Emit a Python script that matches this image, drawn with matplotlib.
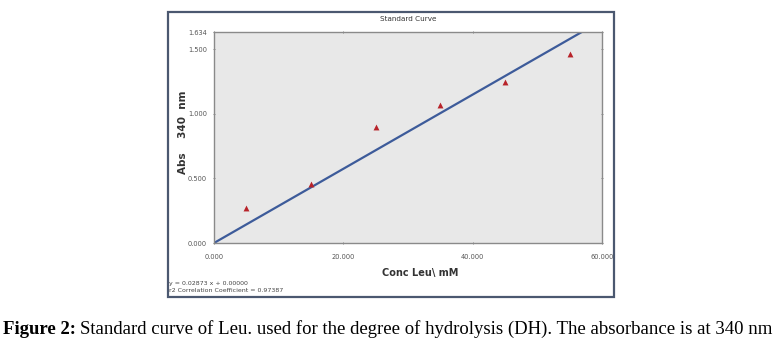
import matplotlib
matplotlib.use("Agg")
import matplotlib.pyplot as plt
from matplotlib.patches import Rectangle
import numpy as np

# Leucine standards (mM) and measured absorbance at 340 nm
conc = [5, 15, 25, 35, 45, 55]
absorbance = [0.273, 0.455, 0.900, 1.069, 1.249, 1.462]

# Linear fit through the origin
slope = 0.02873
intercept = 0.00000
r2 = 0.97387

x_ticks = [0, 20, 40, 60]
x_tick_labels = ["0.000", "20.000", "40.000", "60.000"]
y_ticks = [0.0, 0.5, 1.0, 1.5, 1.634]
y_tick_labels = ["0.000", "0.500", "1.000", "1.500", "1.634"]

fig = plt.figure(figsize=(7.76, 3.43), dpi=100)
fig.patch.set_facecolor("white")

# Outer window frame around the plot
frame = Rectangle((168 / 776, 1 - 297 / 343), (614 - 168) / 776, (297 - 12) / 343,
                  transform=fig.transFigure, fill=False, edgecolor="#4b5870",
                  linewidth=1.6, zorder=0)
fig.patches.append(frame)

ax = fig.add_axes([214 / 776, 1 - 243 / 343, (602 - 214) / 776, (243 - 32) / 343])
ax.set_facecolor("#e8e8e8")
for s in ax.spines.values():
    s.set_color("#8a8a8a")
    s.set_linewidth(1.0)

xs = np.array([0, 60])
ax.plot(xs, slope * xs + intercept, color="#3d5b9a", linewidth=1.6, zorder=2)
ax.scatter(conc, absorbance, marker="^", s=18, color="#b8232a", zorder=3, linewidths=0)

ax.set_xlim(0, 60)
ax.set_ylim(0, 1.634)
ax.set_xticks(x_ticks)
ax.set_xticklabels(x_tick_labels)
ax.set_yticks(y_ticks)
ax.set_yticklabels(y_tick_labels)
ax.tick_params(axis="both", labelsize=4.8, labelcolor="#555555", color="#777777",
               length=2, width=0.6, direction="inout")
ax.tick_params(axis="x", pad=7)
ax.tick_params(axis="y", pad=4)
ax.tick_params(top=True, right=True)

ax.set_title("Standard Curve", fontsize=5.2, color="#333333", pad=8)
ax.set_xlabel("Conc Leu\\ mM", fontsize=7, fontweight="bold", color="#333333")
ax.set_ylabel("Abs    340  nm", fontsize=7.5, fontweight="bold", color="#333333")
ax.xaxis.set_label_coords((420 - 214) / 388, -(273 - 243) / 211)
ax.yaxis.set_label_coords(-(214 - 183) / 388, (243 - 132) / 211)
ax.xaxis.label.set_va("center")
ax.yaxis.label.set_va("center")

fig.text(169 / 776, 1 - 283 / 343, f"y = {slope:.5f} x + {intercept:.5f}",
         fontsize=4.5, color="#444444", va="center", ha="left")
fig.text(169 / 776, 1 - 291 / 343, f"r2 Correlation Coefficient = {r2:.5f}",
         fontsize=4.5, color="#444444", va="center", ha="left")

# Caption below the figure
cap_y = 1 - 329 / 343
t1 = fig.text(3 / 776, cap_y, "Figure 2:", fontsize=13.5, fontweight="bold",
              family="Liberation Serif", va="center", ha="left")
fig.canvas.draw()
bb = t1.get_window_extent()
fig.text((bb.x1 + 4) / 776, cap_y,
         "Standard curve of Leu. used for the degree of hydrolysis (DH). The absorbance is at 340 nm",
         fontsize=13.5, family="Liberation Serif", va="center", ha="left")

fig.savefig("out.png", dpi=100)
